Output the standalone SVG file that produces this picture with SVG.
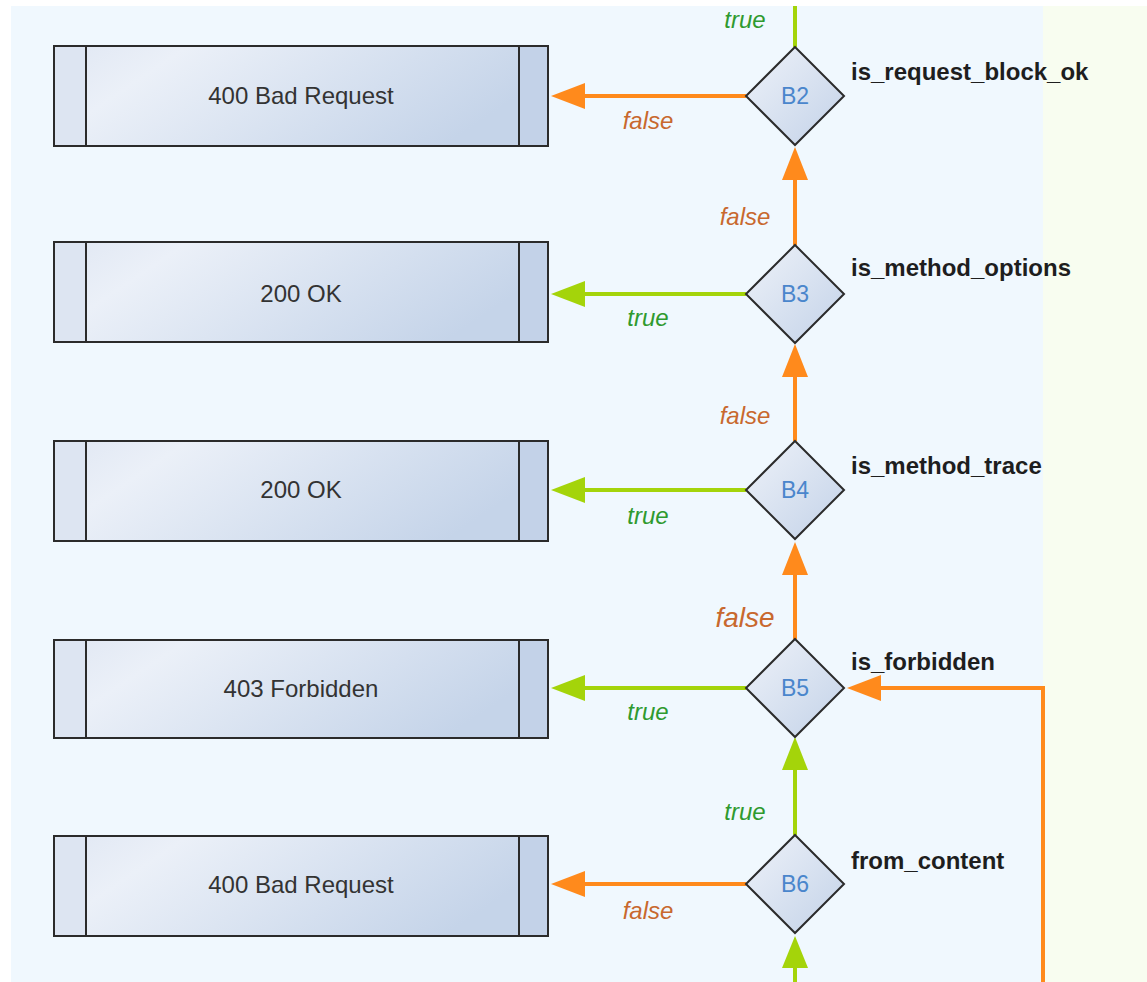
<svg xmlns="http://www.w3.org/2000/svg" width="1147" height="982" viewBox="0 0 1147 982">
<defs>
<linearGradient id="boxg" x1="0" y1="0" x2="1" y2="0.3">
<stop offset="0" stop-color="#e0e7f3"/>
<stop offset="0.25" stop-color="#ebf0f8"/>
<stop offset="1" stop-color="#c5d4e9"/>
</linearGradient>
<linearGradient id="diag" x1="0" y1="0" x2="1" y2="1">
<stop offset="0" stop-color="#eef2f9"/>
<stop offset="1" stop-color="#c3d2e8"/>
</linearGradient>
</defs>
<style>
.bx{fill:url(#boxg);stroke:#2b2b2b;stroke-width:2}
.pl{fill:#dde5f2;stroke:#2b2b2b;stroke-width:2}
.pr{fill:#c3d2e8;stroke:#2b2b2b;stroke-width:2}
.dm{fill:url(#diag);stroke:#2b2b2b;stroke-width:2}
.bt{font-family:"Liberation Sans",Arial,sans-serif;font-size:24px;fill:#333;text-anchor:middle}
.dt{font-family:"Liberation Sans",Arial,sans-serif;font-size:23px;fill:#4a86cc;text-anchor:middle}
.sl{font-family:"Liberation Sans",Arial,sans-serif;font-size:24px;font-weight:bold;fill:#1e1e1e}
.lt{font-family:"Liberation Sans",Arial,sans-serif;font-size:24px;font-style:italic;fill:#2f9a2f;text-anchor:middle}
.lf{font-family:"Liberation Sans",Arial,sans-serif;font-size:24px;font-style:italic;fill:#c8682e;text-anchor:middle}
.eo{stroke:#ff8a1c;stroke-width:4;fill:none}
.eg{stroke:#a4d40a;stroke-width:4;fill:none}
.ho{fill:#ff8a1c}
.hg{fill:#a4d40a}
</style>
<rect x="0" y="0" width="1147" height="982" fill="#ffffff"/>
<rect x="11" y="6" width="1032" height="976" fill="#f0f8fe"/>
<rect x="1043" y="6" width="104" height="976" fill="#f8fdf0"/>

<g id="connectors">
<line class="eg" x1="795" y1="6" x2="795" y2="47"/>
<text class="lt" x="745" y="28">true</text>
<line class="eo" x1="746" y1="96" x2="580" y2="96"/>
<polygon class="ho" points="551,96 585,83 585,109"/>
<text class="lf" x="648" y="129">false</text>
<line class="eo" x1="795" y1="245" x2="795" y2="175"/>
<polygon class="ho" points="795,147 782,180 808,180"/>
<text class="lf" x="745" y="225">false</text>
<line class="eg" x1="746" y1="294" x2="580" y2="294"/>
<polygon class="hg" points="551,294 585,281 585,307"/>
<text class="lt" x="648" y="326">true</text>
<line class="eo" x1="795" y1="441" x2="795" y2="372"/>
<polygon class="ho" points="795,344 782,377 808,377"/>
<text class="lf" x="745" y="424">false</text>
<line class="eg" x1="746" y1="490" x2="580" y2="490"/>
<polygon class="hg" points="551,490 585,477 585,503"/>
<text class="lt" x="648" y="524">true</text>
<line class="eo" x1="795" y1="639" x2="795" y2="570"/>
<polygon class="ho" points="795,542 782,575 808,575"/>
<text class="lf" x="745" y="627" style="font-size:28px">false</text>
<line class="eg" x1="746" y1="688" x2="580" y2="688"/>
<polygon class="hg" points="551,688 585,675 585,701"/>
<text class="lt" x="648" y="720">true</text>
<line class="eg" x1="795" y1="835" x2="795" y2="765"/>
<polygon class="hg" points="795,737 782,770 808,770"/>
<text class="lt" x="745" y="820">true</text>
<line class="eo" x1="746" y1="884" x2="580" y2="884"/>
<polygon class="ho" points="551,884 585,871 585,897"/>
<text class="lf" x="648" y="919">false</text>
<line class="eg" x1="795" y1="982" x2="795" y2="960"/>
<polygon class="hg" points="795,936 782,968 808,968"/>
<polyline class="eo" points="1043,982 1043,688 875,688"/>
<polygon class="ho" points="847,688 881,675 881,701"/>
</g>

<g id="box1">
<rect class="bx" x="54" y="46" width="494" height="100"/>
<rect class="pl" x="54" y="46" width="32" height="100"/>
<rect class="pr" x="519" y="46" width="29" height="100"/>
<text class="bt" x="301" y="104">400 Bad Request</text>
</g>
<g id="box2">
<rect class="bx" x="54" y="242" width="494" height="100"/>
<rect class="pl" x="54" y="242" width="32" height="100"/>
<rect class="pr" x="519" y="242" width="29" height="100"/>
<text class="bt" x="301" y="302">200 OK</text>
</g>
<g id="box3">
<rect class="bx" x="54" y="441" width="494" height="100"/>
<rect class="pl" x="54" y="441" width="32" height="100"/>
<rect class="pr" x="519" y="441" width="29" height="100"/>
<text class="bt" x="301" y="498">200 OK</text>
</g>
<g id="box4">
<rect class="bx" x="54" y="640" width="494" height="98"/>
<rect class="pl" x="54" y="640" width="32" height="98"/>
<rect class="pr" x="519" y="640" width="29" height="98"/>
<text class="bt" x="301" y="697">403 Forbidden</text>
</g>
<g id="box5">
<rect class="bx" x="54" y="836" width="494" height="100"/>
<rect class="pl" x="54" y="836" width="32" height="100"/>
<rect class="pr" x="519" y="836" width="29" height="100"/>
<text class="bt" x="301" y="893">400 Bad Request</text>
</g>

<g id="B2">
<polygon class="dm" points="795,47 844,96 795,145 746,96"/>
<text class="dt" x="795" y="104">B2</text>
<text class="sl" x="851" y="80">is_request_block_ok</text>
</g>
<g id="B3">
<polygon class="dm" points="795,245 844,294 795,343 746,294"/>
<text class="dt" x="795" y="302">B3</text>
<text class="sl" x="851" y="276">is_method_options</text>
</g>
<g id="B4">
<polygon class="dm" points="795,441 844,490 795,539 746,490"/>
<text class="dt" x="795" y="498">B4</text>
<text class="sl" x="851" y="474">is_method_trace</text>
</g>
<g id="B5">
<polygon class="dm" points="795,639 844,688 795,737 746,688"/>
<text class="dt" x="795" y="696">B5</text>
<text class="sl" x="851" y="670">is_forbidden</text>
</g>
<g id="B6">
<polygon class="dm" points="795,835 844,884 795,933 746,884"/>
<text class="dt" x="795" y="892">B6</text>
<text class="sl" x="851" y="869">from_content</text>
</g>
</svg>
